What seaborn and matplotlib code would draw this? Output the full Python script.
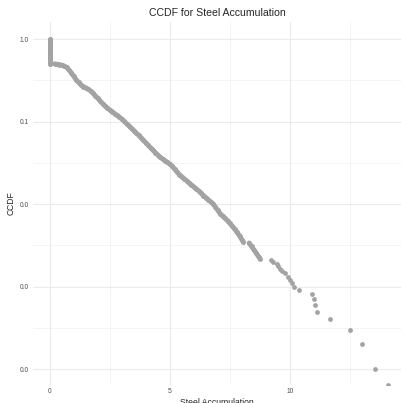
import matplotlib
matplotlib.use("Agg")
import numpy as np
import pandas as pd
import matplotlib.pyplot as plt
import seaborn as sns
from matplotlib.ticker import FixedLocator, FuncFormatter

# =========================
# DATA
# =========================
# pile of values at zero: ccdf goes from 1.0 down to about 0.5
zero_x = [0.0] * 11
zero_ccdf = [1.0, 0.95, 0.9, 0.85, 0.8, 0.75, 0.7, 0.65, 0.6, 0.55, 0.5]

# dense part of the curve (first run, up to the small gap near 8.1)
curve_x = [0.2, 0.3, 0.4, 0.5, 0.6, 0.7, 0.8, 0.9, 1.0, 1.1,
           1.2, 1.3, 1.4, 1.5, 1.6, 1.7, 1.8, 1.9, 2.0, 2.1,
           2.2, 2.3, 2.4, 2.5, 2.6, 2.7, 2.8, 2.9, 3.0, 3.1,
           3.2, 3.3, 3.4, 3.5, 3.6, 3.7, 3.8, 3.9, 4.0, 4.1,
           4.2, 4.3, 4.4, 4.5, 4.6, 4.7, 4.8, 4.9, 5.0, 5.1,
           5.2, 5.3, 5.4, 5.5, 5.6, 5.7, 5.8, 5.9, 6.0, 6.1,
           6.2, 6.3, 6.4, 6.5, 6.6, 6.7, 6.8, 6.9, 7.0, 7.1,
           7.2, 7.3, 7.4, 7.5, 7.6, 7.7, 7.8, 7.9, 8.0, 8.06]
curve_ccdf = [0.501, 0.495, 0.490, 0.483, 0.471, 0.454, 0.420, 0.389, 0.352, 0.320,
              0.298, 0.278, 0.266, 0.256, 0.247, 0.235, 0.220, 0.205, 0.191, 0.177,
              0.165, 0.155, 0.146, 0.138, 0.132, 0.125, 0.119, 0.1135, 0.107, 0.1005,
              0.0944, 0.0887, 0.0832, 0.0778, 0.0729, 0.0682, 0.0638, 0.0594, 0.0553, 0.0515,
              0.0480, 0.0449, 0.0420, 0.0392, 0.0368, 0.0352, 0.0336, 0.0321, 0.0305, 0.0288,
              0.0266, 0.0246, 0.0228, 0.0214, 0.0203, 0.0192, 0.0181, 0.0171, 0.0162, 0.0153,
              0.0145, 0.0136, 0.0127, 0.0120, 0.0113, 0.0107, 0.0101, 0.00918, 0.00838, 0.00766,
              0.00716, 0.00671, 0.00630, 0.00585, 0.00541, 0.00498, 0.00456, 0.00413, 0.00371, 0.00347]

# short dense run after the gap
curve2_x = [8.3, 8.4, 8.5, 8.6, 8.7, 8.75]
curve2_ccdf = [0.00339, 0.00308, 0.00280, 0.00254, 0.00230, 0.00219]

# sparse tail
tail_x = [9.21, 9.28, 9.45, 9.49, 9.58, 9.69, 9.79, 9.90, 10.0, 10.08,
          10.18, 10.36, 10.92, 10.99, 11.05, 11.14, 11.67, 12.49, 13.0, 13.55, 14.07]
tail_ccdf = [0.00209, 0.00200, 0.00191, 0.00178, 0.00166, 0.00155, 0.00145, 0.00132, 0.00120, 0.00112,
             0.00100, 0.000912, 0.000813, 0.000708, 0.000603, 0.000501, 0.000407, 0.000302, 0.000204,
             0.000102, 0.0000646]

y_breaks = [1.0, 0.1, 0.01, 0.001, 0.0001]
y_minor = [10 ** -0.5, 10 ** -1.5, 10 ** -2.5, 10 ** -3.5]
x_breaks = [0, 5, 10]
x_minor = [2.5, 7.5, 12.5]

dados = pd.DataFrame({
    "steel": zero_x + curve_x + curve2_x + tail_x,
    "ccdf": zero_ccdf + curve_ccdf + curve2_ccdf + tail_ccdf,
    "trecho": (["zero"] * len(zero_x) + ["curva"] * len(curve_x)
               + ["curva2"] * len(curve2_x) + ["cauda"] * len(tail_x)),
})

# =========================
# STYLE
# =========================
sns.set_style("white")
plt.rcParams['font.family'] = ['Liberation Sans', 'DejaVu Sans']

cinza = "#A3A3A3"

fig = plt.figure(figsize=(4.01, 4.03), dpi=100)
ax = fig.add_axes([33 / 401, 18 / 403, 368 / 401, 363 / 403])

# the dense runs are thousands of overlapping points: draw them as a thick trace
for nome in ["zero", "curva", "curva2"]:
    parte = dados[dados["trecho"] == nome]
    sns.lineplot(data=parte, x="steel", y="ccdf", ax=ax, sort=False,
                 color=cinza, linewidth=3.5, solid_capstyle="round",
                 solid_joinstyle="round", estimator=None, zorder=3)

sns.scatterplot(data=dados, x="steel", y="ccdf", ax=ax,
                color=cinza, s=12, linewidth=0, legend=False, zorder=3)

ax.set_yscale("log")
ax.set_xlim(-0.7, 14.625)
ax.set_ylim(10 ** -4.19, 10 ** 0.206)

ax.yaxis.set_major_locator(FixedLocator(y_breaks))
ax.yaxis.set_minor_locator(FixedLocator(y_minor))
ax.yaxis.set_major_formatter(FuncFormatter(lambda v, p: f"{v:.1f}"))
ax.yaxis.set_minor_formatter(FuncFormatter(lambda v, p: ""))
ax.xaxis.set_major_locator(FixedLocator(x_breaks))
ax.xaxis.set_minor_locator(FixedLocator(x_minor))

ax.grid(True, which="major", color="#EBEBEB", linewidth=0.8, zorder=0)
ax.grid(True, which="minor", color="#F3F3F3", linewidth=0.6, zorder=0)
ax.set_axisbelow(True)
for lado in ax.spines.values():
    lado.set_visible(False)

ax.tick_params(axis="both", which="both", length=0, labelsize=4.8,
               labelcolor="#4D4D4D")
ax.tick_params(axis="x", pad=2.5)
ax.tick_params(axis="y", pad=3)

ax.set_title("CCDF for Steel Accumulation", fontsize=7.6, pad=4.5)
ax.set_xlabel("Steel Accumulation", fontsize=6.2, labelpad=1.5)
ax.set_ylabel("CCDF", fontsize=6.2, labelpad=3)

fig.savefig("out.png", dpi=100)
